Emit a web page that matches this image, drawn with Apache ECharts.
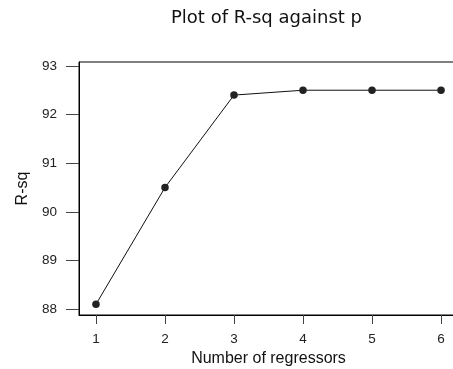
<!DOCTYPE html>
<html>
<head>
<meta charset="utf-8">
<script src="https://cdn.jsdelivr.net/npm/echarts@6/dist/echarts.min.js"></script>
<style>
html,body{margin:0;padding:0;background:#fff;}
#c{width:453px;height:369px;}
</style>
</head>
<body>
<div id="c"></div>
<script>
const regressors = [1, 2, 3, 4, 5, 6];
const rsq = [88.1, 90.5, 92.4, 92.5, 92.5, 92.5];
const yTicks = [88, 89, 90, 91, 92, 93];
const xTicks = [1, 2, 3, 4, 5, 6];

const chart = echarts.init(document.getElementById('c'), null, {renderer: 'canvas'});
chart.setOption({
  animation: false,
  backgroundColor: '#fff',
  title: {
    text: 'Plot of R-sq against p',
    left: 171,
    top: 9,
    padding: 0,
    textStyle: {fontFamily: 'DejaVu Sans', fontSize: 18, fontWeight: 'normal', color: '#111'}
  },
  grid: {
    left: 79, top: 62, right: -5, bottom: 54,
    outerBoundsMode: 'none',
    containLabel: false,
    show: true, borderColor: '#000', borderWidth: 1, backgroundColor: 'transparent'
  },
  xAxis: {
    type: 'value',
    min: 0.754, max: 6.246,
    name: 'Number of regressors',
    nameLocation: 'middle',
    nameGap: 34,
    nameTextStyle: {fontFamily: 'Liberation Sans', fontSize: 16, color: '#111'},
    axisLine: {show: true, onZero: false, lineStyle: {color: '#000', width: 1}},
    axisTick: {show: true, length: 9, inside: false, customValues: xTicks, lineStyle: {color: '#444'}},
    axisLabel: {customValues: xTicks, margin: 17, fontFamily: 'Liberation Sans', fontSize: 13.5, color: '#222'},
    splitLine: {show: false}
  },
  yAxis: {
    type: 'value',
    min: 87.88, max: 93.08,
    name: 'R-sq',
    nameLocation: 'middle',
    nameGap: 46,
    nameTextStyle: {fontFamily: 'Liberation Sans', fontSize: 16, color: '#111'},
    axisLine: {show: true, onZero: false, lineStyle: {color: '#000', width: 1}},
    axisTick: {show: true, length: 13, inside: false, customValues: yTicks, lineStyle: {color: '#444'}},
    axisLabel: {customValues: yTicks, margin: 22, fontFamily: 'Liberation Sans', fontSize: 13.5, color: '#222'},
    splitLine: {show: false}
  },
  series: [{
    type: 'line',
    data: regressors.map((x, i) => [x, rsq[i]]),
    symbol: 'circle',
    symbolSize: 7.5,
    itemStyle: {color: '#222'},
    lineStyle: {color: '#111', width: 1},
    silent: true
  }]
});
</script>
</body>
</html>
